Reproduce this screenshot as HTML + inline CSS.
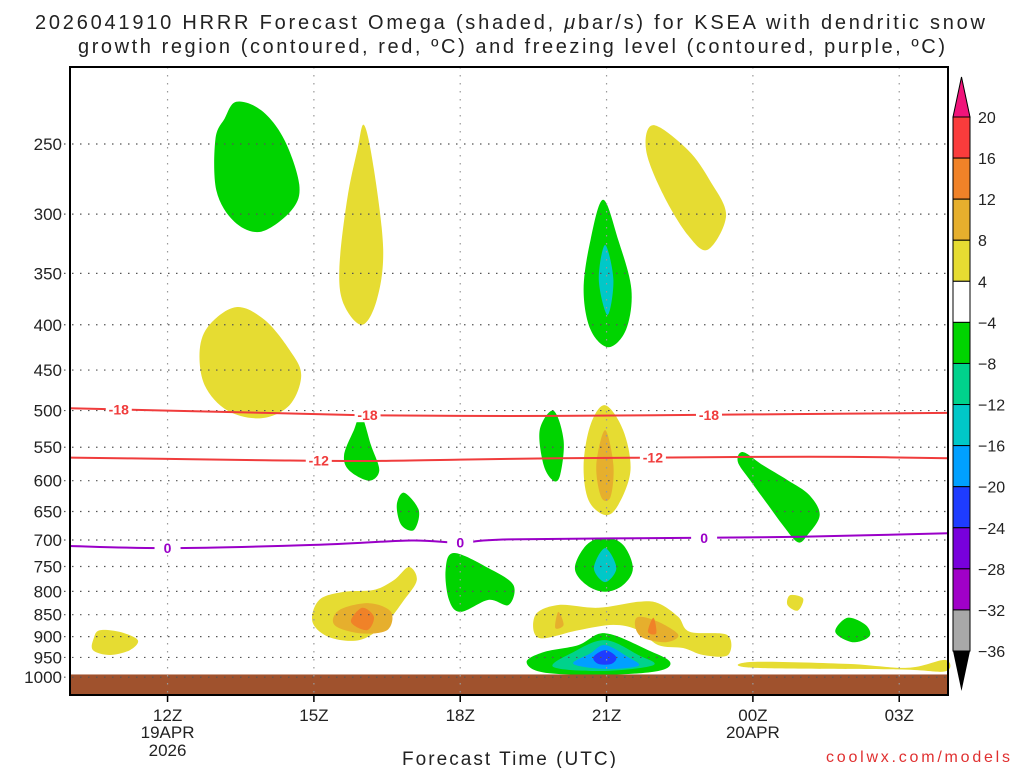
<!DOCTYPE html>
<html><head><meta charset="utf-8"><style>
html,body{margin:0;padding:0;background:#fff;width:1024px;height:768px;overflow:hidden}
svg{display:block;font-family:"Liberation Sans",sans-serif}
</style></head><body>
<svg id="chart" width="1024" height="768" viewBox="0 0 1024 768">
<text x="35" y="29" font-size="20" textLength="950" lengthAdjust="spacing" fill="#222">2026041910 HRRR Forecast Omega (shaded, <tspan font-style="italic">μ</tspan>bar/s) for KSEA with dendritic snow</text>
<text x="78" y="53" font-size="20" textLength="867" lengthAdjust="spacing" fill="#222">growth region (contoured, red, ºC) and freezing level (contoured, purple, ºC)</text>
<g id="shades"></g>
<g id="grid"></g>
<g id="lines"></g>
<rect x="70" y="67" width="878" height="628" fill="none" stroke="#000" stroke-width="2"/>
<g id="axes"></g>
<g id="cbar"></g>
<text x="509" y="765" font-size="19" text-anchor="middle" textLength="214" fill="#222">Forecast Time (UTC)</text>
<text x="1010" y="762" font-size="16" text-anchor="end" textLength="184" fill="#e03030">coolwx.com/models</text>
</svg>
<script>
const xTickHours=[12,15,18,21,24,27];
const xTickLabels=["12Z","15Z","18Z","21Z","00Z","03Z"];
const yTicks=[250,300,350,400,450,500,550,600,650,700,750,800,850,900,950,1000];
const cbarLevels=[20,16,12,8,4,-4,-8,-12,-16,-20,-24,-28,-32,-36];
const cbarColors=["#fa3c3c","#f08228","#e6af2d","#e6dc32","#ffffff","#00d400","#00d28c","#00c8c8","#00a0ff","#1e3cff","#7800dc","#a000c8","#a8a8a8"];
const blobHours=[
[13.41,13.92,14.39,14.70,14.54,13.92,13.37,13.00,12.98,13.17],
[16.03,16.23,16.42,16.29,15.99,15.62,15.52,15.68,15.89],
[21.96,22.67,23.12,23.45,23.08,22.67,22.16,21.81],
[20.93,21.24,21.51,21.40,21.04,20.67,20.53,20.67],
[20.97,21.14,21.02,20.84],
[13.41,13.99,14.50,14.74,14.50,13.92,13.23,12.76,12.66,12.86],
[15.97,16.17,16.34,16.13,15.72,15.62,15.82],
[16.85,17.15,17.05,16.79,16.70],
[19.91,20.12,20.05,19.91,19.71,19.63],
[20.97,21.34,21.49,21.24,20.97,20.63,20.53,20.67],
[20.97,21.14,21.08,20.89,20.79],
[23.80,24.20,24.71,25.16,25.37,25.12,24.92,24.61,24.31,23.94,23.69],
[20.97,21.34,21.54,21.34,20.97,20.59,20.35,20.59],
[20.97,21.20,20.97,20.74],
[17.87,18.58,19.09,18.99,18.58,18.01,17.77,17.70],
[16.95,17.11,16.85,16.44,15.93,15.31,14.97,15.11,15.62,16.23,16.64],
[16.13,16.58,16.50,15.93,15.42,15.52],
[15.99,16.23,16.09,15.76],
[20.01,20.83,21.65,22.06,22.47,22.71,23.47,23.49,22.98,22.57,22.06,21.65,21.14,20.42,19.61,19.54],
[21.65,22.06,22.47,22.22,21.75,21.59],
[21.96,22.02,21.85],
[20.01,20.12,19.95],
[20.97,21.85,22.30,22.06,20.97,19.71,19.36,19.71,20.42],
[20.97,21.65,21.96,20.97,19.91,20.32],
[20.97,21.44,21.65,20.97,20.32,20.67],
[20.97,21.20,21.10,20.83,20.73],
[10.61,11.02,11.39,11.23,10.82,10.47,10.49],
[24.76,25.03,24.92,24.71],
[25.94,26.31,26.39,26.04,25.69],
[24.0,25.94,27.17,27.94,27.94,26.97,24.0]
];
const blobPres=[
[224,229,247,278,297,314,306,282,247,234],
[238,267,329,375,400,380,347,289,254],
[238,254,275,301,329,317,285,254],
[289,321,365,405,424,405,365,321],
[325,356,390,356],
[382,395,427,456,493,510,500,468,427,400],
[506,547,584,600,584,561,526],
[619,648,682,673,639],
[500,540,591,600,576,526],
[493,526,584,639,656,631,576,519],
[526,576,626,626,576],
[557,576,599,623,656,691,704,673,639,599,571],
[696,709,753,787,801,787,753,709],
[715,753,781,753],
[724,753,787,829,818,844,818,757],
[751,777,818,873,908,901,866,818,801,797,777],
[825,844,885,892,873,840],
[835,855,885,866],
[829,835,822,825,855,889,896,944,944,927,920,885,873,885,903,851],
[855,866,896,913,903,878],
[857,892,889],
[844,873,880],
[892,932,961,984,994,988,961,937,920],
[908,944,969,984,974,937],
[920,949,971,979,966,940],
[932,949,966,966,949],
[885,889,908,932,944,932,903],
[808,815,841,829],
[857,873,899,913,889],
[961,966,976,956,985,980,976]
];
const fillsUsed=["#00d400","#e6dc32","#e6dc32","#00d400","#00c8c8","#e6dc32","#00d400","#00d400","#00d400","#e6dc32","#e6af2d","#00d400","#00d400","#00c8c8","#00d400","#e6dc32","#e6af2d","#f08228","#e6dc32","#e6af2d","#f08228","#e6af2d","#00d400","#00d28c","#00a0ff","#1e3cff","#e6dc32","#e6dc32","#00d400","#e6dc32"];
const m18Hours=[10,12,14,16,18,20,22,24,26,28];
const m18Pres=[497,500,503,506,507,507,506,505,504,503];
const m12Hours=[10,12,14,16,18,20,22,24,26,28];
const m12Pres=[565,567,569,570,568,566,565,564,564,566];
const zeroHours=[10,12,15,17,18,19,23,25,28];
const zeroPres=[711,715,709,701,705,699,696,694,688];
const groundPres=993;
const X0=70,X1=948,H0=10,H1=28;
const xs=h=>X0+(h-H0)*(X1-X0)/(H1-H0);
const ys=p=>144+Math.log(p/250)*384.6;
const NS="http://www.w3.org/2000/svg";
function mk(t,a,parent){const e=document.createElementNS(NS,t);for(const k in a)e.setAttribute(k,a[k]);parent.appendChild(e);return e;}
function smooth(pts,closed){
  const n=pts.length;let d="M"+pts[0][0].toFixed(1)+","+pts[0][1].toFixed(1);
  const g=i=>closed?pts[(i+n)%n]:pts[Math.max(0,Math.min(n-1,i))];
  const last=closed?n:n-1;
  for(let i=0;i<last;i++){const p0=g(i-1),p1=g(i),p2=g(i+1),p3=g(i+2);
    const c1=[p1[0]+(p2[0]-p0[0])/6,p1[1]+(p2[1]-p0[1])/6],c2=[p2[0]-(p3[0]-p1[0])/6,p2[1]-(p3[1]-p1[1])/6];
    d+="C"+c1[0].toFixed(1)+","+c1[1].toFixed(1)+" "+c2[0].toFixed(1)+","+c2[1].toFixed(1)+" "+p2[0].toFixed(1)+","+p2[1].toFixed(1);}
  return d+(closed?"Z":"");
}
const shades=document.getElementById('shades');
blobHours.forEach((hs,i)=>{
  const pts=hs.map((h,j)=>[xs(h),ys(blobPres[i][j])]);
  const e=mk('path',{d:smooth(pts,true),fill:fillsUsed[i]},shades);
  
  
});
const gr=mk('rect',{x:X0,y:ys(groundPres),width:X1-X0,height:695-ys(groundPres),fill:"#a0522d"},shades);


const grid=document.getElementById('grid');
yTicks.forEach(p=>{
  const l=mk('line',{x1:64,x2:X1,y1:ys(p),y2:ys(p),stroke:"#555","stroke-width":1.2,"stroke-dasharray":"1.5 6.5"},grid);
  
  
  const t=mk('text',{x:62,y:ys(p)+6,"font-size":17,"text-anchor":"end",fill:"#222"},grid);
  t.textContent=p;
  
  
});
xTickHours.forEach((h,i)=>{
  const l=mk('line',{x1:xs(h),x2:xs(h),y1:67,y2:695,stroke:"#999","stroke-width":1.2,"stroke-dasharray":"1.5 6.5"},grid);
  
  
});
const lines=document.getElementById('lines');
function contour(hs,ps,color,name,labels,txt){
  const pts=hs.map((h,j)=>[xs(h),ys(ps[j])]);
  const e=mk('path',{d:smooth(pts,false),fill:"none",stroke:color,"stroke-width":2},lines);
  
  
  labels.forEach(h=>{
    let j=0;while(j<hs.length-2&&hs[j+1]<h)j++;
    const f=(h-hs[j])/(hs[j+1]-hs[j]);const p=ps[j]+f*(ps[j+1]-ps[j]);
    const x=xs(h),y=ys(p);
    const r=mk('rect',{x:x-13,y:y-7,width:26,height:14,fill:"#fff"},lines);
    
    
    const t=mk('text',{x:x,y:y+5,"font-size":14,"font-weight":"bold","text-anchor":"middle",fill:color},lines);
    t.textContent=txt;
    
    
  });
}
contour(m18Hours,m18Pres,"#f03c3c","contour-minus18",[11.0,16.1,23.1],"-18");
contour(m12Hours,m12Pres,"#f03c3c","contour-minus12",[15.1,21.95],"-12");
contour(zeroHours,zeroPres,"#9a00c8","freezing-level-0",[12.0,18.0,23.0],"0");
const axes=document.getElementById('axes');
xTickHours.forEach((h,i)=>{
  const l=mk('line',{x1:xs(h),x2:xs(h),y1:695,y2:702,stroke:"#000","stroke-width":1.5},axes);
  
  
  const t=mk('text',{x:xs(h),y:721,"font-size":17,"text-anchor":"middle",fill:"#222"},axes);
  t.textContent=xTickLabels[i];
  
  
});
const dates=[[12,"19APR",738],[12,"2026",756],[24,"20APR",738]];
dates.forEach(d=>{
  const t=mk('text',{x:xs(d[0]),y:d[2],"font-size":17,"text-anchor":"middle",fill:"#222"},axes);
  t.textContent=d[1];
  
  
});
const cb=document.getElementById('cbar');
const CX=953,CW=17,CT=117,CB=651;const step=(CB-CT)/cbarColors.length;
const up=mk('polygon',{points:`${CX},${CT} ${CX+CW},${CT} ${CX+CW/2},${CT-40}`,fill:"#f0147a",stroke:"#000","stroke-width":1},cb);


const dn=mk('polygon',{points:`${CX},${CB} ${CX+CW},${CB} ${CX+CW/2},${CB+40}`,fill:"#000"},cb);


cbarColors.forEach((c,i)=>{
  const r=mk('rect',{x:CX,y:CT+i*step,width:CW,height:step,fill:c,stroke:"#000","stroke-width":1},cb);
  
  
});
cbarLevels.forEach((v,i)=>{
  const t=mk('text',{x:978,y:CT+i*step+6,"font-size":16,fill:"#222"},cb);
  t.textContent=v<0?"\u2212"+(-v):v;
  
  
});
</script>
</body></html>
